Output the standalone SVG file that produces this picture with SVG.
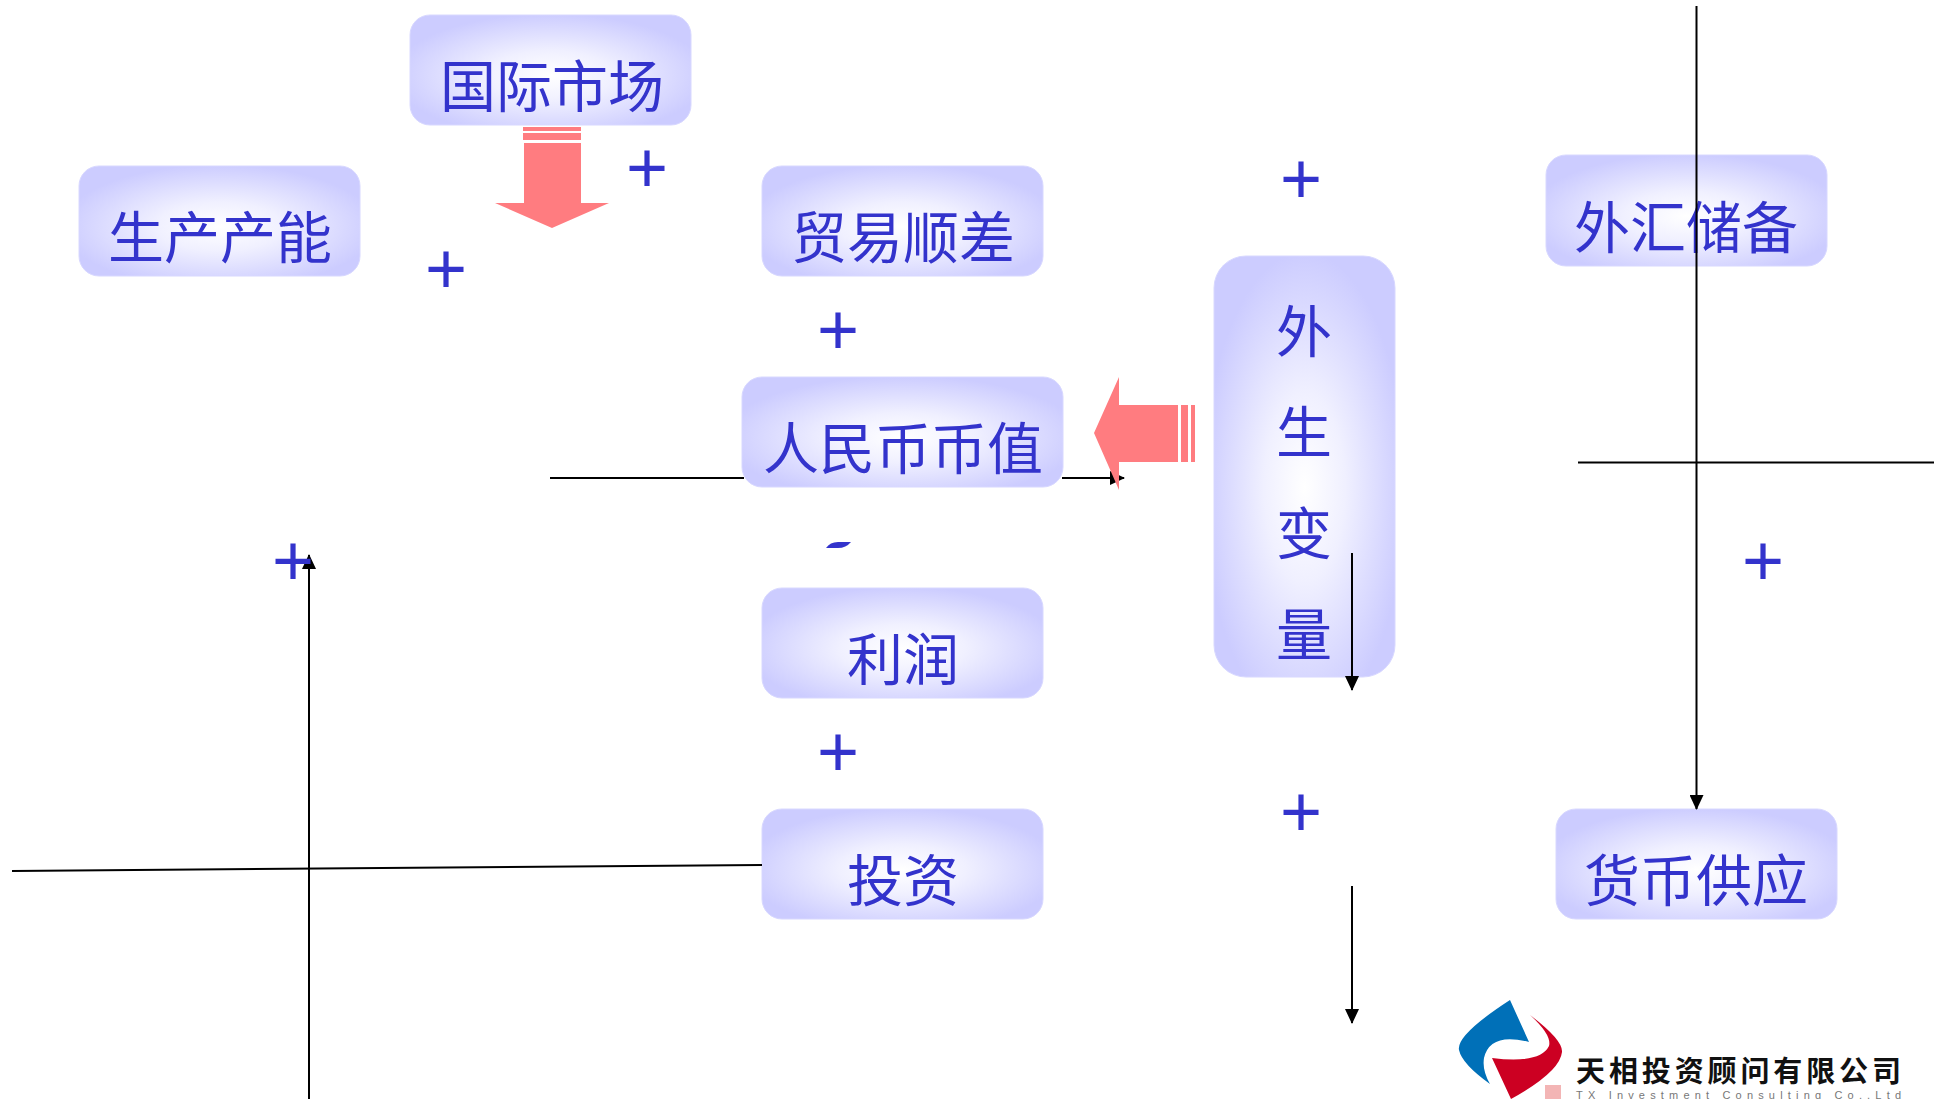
<svg xmlns="http://www.w3.org/2000/svg" width="1939" height="1099" viewBox="0 0 1939 1099">
<defs>
<radialGradient id="g" cx="0.5" cy="0.55" r="0.56"><stop offset="0" stop-color="#ffffff"/><stop offset="0.4" stop-color="#f0f0ff"/><stop offset="1" stop-color="#ccccff"/></radialGradient>
<marker id="a" markerWidth="16" markerHeight="14" refX="14" refY="7" orient="auto" markerUnits="userSpaceOnUse"><path d="M0 0L15 7L0 14z" fill="#000"/></marker>
</defs>
<style>
.box{fill:url(#g);stroke:#d8d8ff;stroke-width:1}
.t{font-family:"Noto Sans CJK SC","Liberation Sans",sans-serif;font-size:56px;fill:#3333cc;text-anchor:middle}
.p{font-family:"Liberation Sans",sans-serif;font-size:72px;fill:#3333cc;text-anchor:middle}
.l{stroke:#000;stroke-width:2;fill:none}
.r{fill:#ff7c80}
</style>
<rect width="1939" height="1099" fill="#fff"/>
<g id="n-guoji"><rect class="box" x="410" y="15" width="281" height="110" rx="20"/><text class="t" x="552" y="107">国际市场</text></g>
<g id="n-shengchan"><rect class="box" x="79" y="166" width="281" height="110" rx="20"/><text class="t" x="220" y="258">生产产能</text></g>
<g id="n-maoyi"><rect class="box" x="762" y="166" width="281" height="110" rx="20"/><text class="t" x="903" y="258">贸易顺差</text></g>
<g id="n-renminbi"><rect class="box" x="742" y="377" width="321" height="110" rx="20"/><text class="t" x="903" y="469">人民币币值</text></g>
<g id="n-lirun"><rect class="box" x="762" y="588" width="281" height="110" rx="20"/><text class="t" x="903" y="680">利润</text></g>
<g id="n-touzi"><rect class="box" x="762" y="809" width="281" height="110" rx="20"/><text class="t" x="903" y="901">投资</text></g>
<g id="n-waihui"><rect class="box" x="1546" y="155" width="281" height="111" rx="20"/><text class="t" x="1686" y="248">外汇储备</text></g>
<g id="n-huobi"><rect class="box" x="1556" y="809" width="281" height="110" rx="20"/><text class="t" x="1696" y="901">货币供应</text></g>
<g id="n-waisheng"><rect class="box" x="1214" y="256" width="181" height="421" rx="32"/>
<text class="t" x="1304" y="352">外</text><text class="t" x="1304" y="453">生</text><text class="t" x="1304" y="554">变</text><text class="t" x="1304" y="655">量</text></g>
<g id="connectors">
<path class="l" d="M550 478H744"/>
<path class="l" d="M1062 478H1124" marker-end="url(#a)"/>
<path class="l" d="M309 1099V555" marker-end="url(#a)"/>
<path class="l" d="M12 871L762 865"/>
<path class="l" d="M1696.500 6V809" marker-end="url(#a)"/>
<path class="l" d="M1578 462.500H1934"/>
<path class="l" d="M1352 553V690" marker-end="url(#a)"/>
<path class="l" d="M1352 886V1023" marker-end="url(#a)"/>
</g>
<g id="arrow-down">
<rect class="r" x="523" y="127" width="58" height="4"/><rect class="r" x="523" y="133" width="58" height="7"/>
<path class="r" d="M524 143H581V203H609L552 228L495 203H524z"/>
</g>
<g id="arrow-left">
<path class="r" d="M1178 405H1119V377L1094 433L1119 490V462H1178z"/>
<rect class="r" x="1181" y="405" width="7" height="57"/><rect class="r" x="1191" y="405" width="4" height="57"/>
</g>
<g id="signs">
<text class="p" x="647" y="192">+</text>
<text class="p" x="446" y="293">+</text>
<text class="p" x="1301" y="203">+</text>
<text class="p" x="838" y="354">+</text>
<text class="p" x="293" y="585">+</text>
<text class="p" x="1763" y="585">+</text>
<text class="p" x="838" y="776">+</text>
<text class="p" x="1301" y="836">+</text>
<path d="M826 548Q830 542 838 542L851 542Q846 548 838 548z" fill="#3333cc"/>
</g>
<g id="logo">
<path d="M1510 1000L1529 1042Q1490 1032 1484 1058Q1482 1070 1490 1084Q1462 1064 1459 1050Q1456 1035 1510 1000z" fill="#0070b8"/>
<path d="M1530 1015Q1563 1040 1562 1052Q1560 1072 1511 1099L1492 1058Q1540 1064 1549 1046Q1552 1035 1530 1015z" fill="#cc0022"/>
<rect x="1545" y="1085" width="16" height="14" fill="#f3b5b5"/>
<text x="1576" y="1082" font-family="'Noto Sans CJK SC',sans-serif" font-size="29" font-weight="700" fill="#111" textLength="325">天相投资顾问有限公司</text>
<text x="1576" y="1099" font-family="'Liberation Sans',sans-serif" font-size="11" fill="#777" textLength="325">TX Investment Consulting Co.,Ltd</text>
</g>
</svg>
